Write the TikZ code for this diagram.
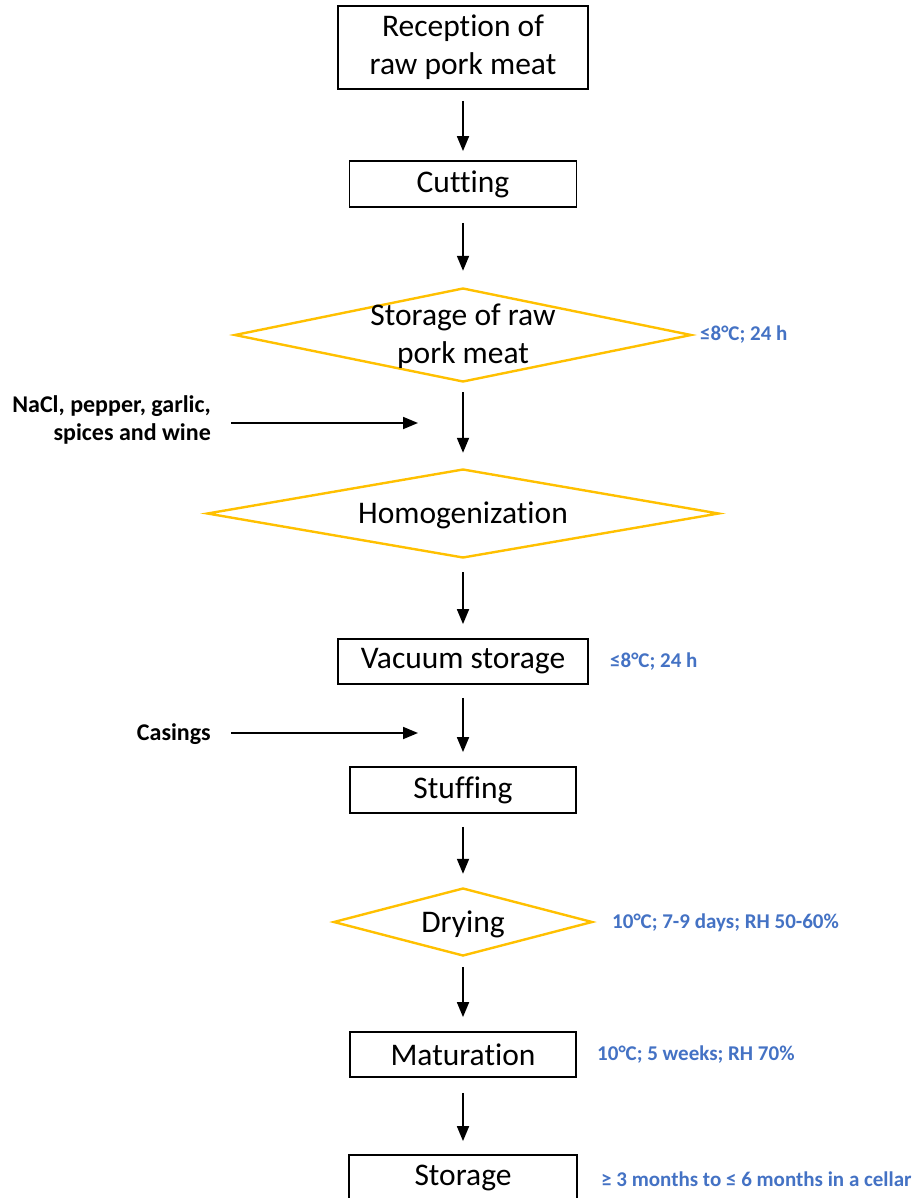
\documentclass[tikz,border=0pt]{standalone}
\usepackage{fontspec}
\setmainfont[Ligatures=NoCommon]{Carlito}
\usetikzlibrary{shapes.geometric,arrows.meta}
\definecolor{stepyellow}{HTML}{FFC000}
\definecolor{noteblue}{HTML}{4472C4}
\begin{document}
\begin{tikzpicture}[x=1pt,y=-1pt,
  stepbox/.style={draw=black,line width=1.8pt,inner sep=0pt,
    font=\fontsize{31.5}{38}\selectfont,align=center},
  decision/.style={diamond,draw=stepyellow,line width=2.4pt,inner sep=0pt},
  steptext/.style={font=\fontsize{31.5}{38}\selectfont,align=center,inner sep=0pt},
  note/.style={font=\bfseries\fontsize{21}{26}\selectfont,text=noteblue,anchor=west,inner sep=0pt},
  inlabel/.style={font=\bfseries\fontsize{24}{28}\selectfont,align=right,anchor=east,inner sep=0pt},
  arr/.style={line width=1.8pt,-{Triangle[length=15pt,width=12pt]}}]
\useasboundingbox (0,0) rectangle (919,1198);

% process steps
\node[stepbox,minimum width=250pt,minimum height=83pt] (rec) at (463,47.5) {Reception of\\raw pork meat};
\node[stepbox,minimum width=227pt,minimum height=46pt] (cut) at (463,184) {Cutting};
\node[decision,minimum width=457pt,minimum height=94pt] (raw) at (463,335) {};
\node[steptext] (rawT) at ([yshift=-1pt]raw.center) {Storage of raw\\pork meat};
\node[decision,minimum width=512pt,minimum height=89pt] (hom) at (463,513.5) {};
\node[steptext] (homT) at ([yshift=-2pt]hom.center) {Homogenization};
\node[stepbox,minimum width=250pt,minimum height=45pt] (vac) at (463,661.5) {Vacuum storage};
\node[stepbox,minimum width=226pt,minimum height=46pt] (stu) at (463,790) {Stuffing};
\node[decision,minimum width=259pt,minimum height=68pt] (dry) at (463,922) {};
\node[steptext] (dryT) at ([yshift=-2pt]dry.center) {Drying};
\node[stepbox,minimum width=226pt,minimum height=45pt] (mat) at (463,1054.5) {Maturation};
\node[stepbox,minimum width=228pt,minimum height=45pt] (sto) at (463,1177.5) {Storage};

% conditions
\node[note] (n1) at (700,335) {≤8°C; 24 h};
\node[note] (n2) at (610,662) {≤8°C; 24 h};
\node[note] (n3) at (612,923) {10°C; 7-9 days; RH 50-60\%};
\node[note] (n4) at (597,1055) {10°C; 5 weeks; RH 70\%};
\node[note] (n5) at (601,1179) {≥ 3 months to ≤ 6 months in a cellar};

% added ingredients
\node[inlabel] (ing) at (211,420) {NaCl, pepper, garlic,\\spices and wine};
\node[inlabel] (cas) at (211,734) {Casings};
\coordinate (ingIn) at (418,423);
\coordinate (casIn) at (418,733);

% flow
\draw[arr] ([yshift=-11pt]rec.south) -- ([yshift=9pt]cut.north);
\draw[arr] ([yshift=-15pt]cut.south) -- ([yshift=16pt]raw.north);
\draw[arr] ([yshift=-9pt]raw.south) -- ([yshift=15pt]hom.north);
\draw[arr] ([yshift=-13pt]hom.south) -- ([yshift=14pt]vac.north);
\draw[arr] ([yshift=-13pt]vac.south) -- ([yshift=14pt]stu.north);
\draw[arr] ([yshift=-13pt]stu.south) -- ([yshift=13pt]dry.north);
\draw[arr] ([yshift=-10pt]dry.south) -- ([yshift=14pt]mat.north);
\draw[arr] ([yshift=-15pt]mat.south) -- ([yshift=13pt]sto.north);
\draw[arr] ([xshift=20pt]ing.east |- ingIn) -- (ingIn);
\draw[arr] ([xshift=20pt]cas.east |- casIn) -- (casIn);
\end{tikzpicture}
\end{document}
